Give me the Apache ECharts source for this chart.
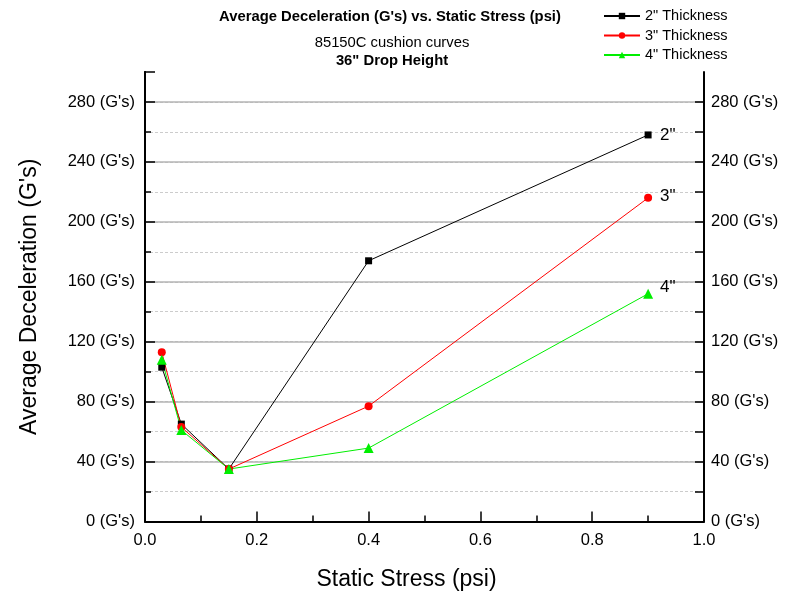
<!DOCTYPE html>
<html>
<head>
<meta charset="utf-8">
<script src="https://cdn.jsdelivr.net/npm/echarts@6/dist/echarts.min.js"></script>
<style>
html,body{margin:0;padding:0;background:#fff;}
#chart{width:785px;height:599px;}
</style>
</head>
<body>
<div id="chart"></div>
<script>
const xValues = [0.03, 0.065, 0.15, 0.4, 0.9];
const thick2 = [103, 65, 35, 174, 258];
const thick3 = [113, 63, 35, 77, 216];
const thick4 = [108, 61, 35, 49, 152];
const seriesNames = ['2" Thickness', '3" Thickness', '4" Thickness'];
const endTags = ['2"', '3"', '4"'];
const titleText = "Average Deceleration (G's) vs. Static Stress (psi)";
const subText1 = '85150C cushion curves';
const subText2 = '36" Drop Height';
const xName = 'Static Stress (psi)';
const yName = "Average Deceleration (G's)";

const FF = 'Liberation Sans, Arial, sans-serif';
const pairs = ys => xValues.map((x, i) => [x, ys[i]]);
const gLabel = v => (v % 40 === 0 && v < 300) ? v + " (G's)" : '';

const chart = echarts.init(document.getElementById('chart'));
const mk = (name, ys, color, symbol, size, tag, off) => ({
  name, type: 'line', data: pairs(ys), yAxisIndex: 0,
  symbol, symbolSize: size, showAllSymbol: true,
  lineStyle: {color, width: 1}, itemStyle: {color},
  endLabel: {show: true, formatter: tag, color: '#000', fontSize: 17, fontFamily: FF, distance: 12, offset: off},
  emphasis: {disabled: true}, animation: false, z: 5
});
chart.setOption({
  animation: false,
  textStyle: {fontFamily: FF},
  title: [
    {text: titleText, left: 385, top: 4.6, textAlign: 'center', textStyle: {fontSize: 14.8, fontWeight: 'bold', color: '#000', fontFamily: FF}},
    {text: subText1, left: 387, top: 30.6, textAlign: 'center', textStyle: {fontSize: 14.8, fontWeight: 'normal', color: '#000', fontFamily: FF}},
    {text: subText2, left: 387, top: 48.6, textAlign: 'center', textStyle: {fontSize: 14.8, fontWeight: 'bold', color: '#000', fontFamily: FF}}
  ],
  legend: {
    orient: 'vertical', left: 598, top: 3.5, itemWidth: 36, itemHeight: 8, itemGap: 4.5,
    textStyle: {fontSize: 14.5, color: '#000', fontFamily: FF, padding: [0,0,0,0]},
    data: seriesNames
  },
  grid: {left: 145, right: 81, top: 72, bottom: 77.5, containLabel: false},
  xAxis: {
    type: 'value', min: 0, max: 1, interval: 0.2,
    name: xName, nameLocation: 'middle', nameGap: 47,
    nameTextStyle: {fontSize: 23, color: '#000', fontFamily: FF, padding: [0, 36, 0, 0]},
    axisLine: {show: true, lineStyle: {color: '#000', width: 2}},
    axisTick: {show: true, inside: true, length: 10, lineStyle: {color: '#000', width: 1.5}},
    minorTick: {show: true, splitNumber: 2, length: 6, lineStyle: {color: '#000', width: 1.5}},
    axisLabel: {fontSize: 16.5, color: '#000', margin: 10, formatter: v => v.toFixed(1)},
    splitLine: {show: false}
  },
  yAxis: [
    {
      type: 'value', min: 0, max: 300, interval: 20, position: 'left',
      name: yName, nameLocation: 'middle', nameGap: 104,
      nameTextStyle: {fontSize: 23, color: '#000', fontFamily: FF},
      axisLine: {show: true, lineStyle: {color: '#000', width: 2}},
      axisTick: {show: true, inside: true, length: 6, lineStyle: {color: '#000', width: 1.5}},
      axisLabel: {fontSize: 16.5, color: '#000', margin: 10, formatter: gLabel, showMaxLabel: false},
      splitLine: {show: true, showMinLine: false, showMaxLine: false, lineStyle: {color: '#cccccc', type: [3, 2], width: 1}}
    },
    {
      type: 'value', min: 0, max: 300, interval: 40, position: 'left',
      axisLine: {show: true, lineStyle: {color: '#000', width: 2}},
      axisTick: {show: true, inside: true, length: 10, lineStyle: {color: '#000', width: 1.5}},
      axisLabel: {show: false},
      splitLine: {show: true, showMinLine: false, showMaxLine: false, lineStyle: {color: '#b4b4b4', width: 1.5}}
    },
    {
      type: 'value', min: 0, max: 300, interval: 20, position: 'right',
      axisLine: {show: true, lineStyle: {color: '#000', width: 2}},
      axisTick: {show: true, inside: true, length: 9, lineStyle: {color: '#000', width: 1.5}},
      axisLabel: {fontSize: 16.5, color: '#000', margin: 7, formatter: gLabel, showMaxLabel: false},
      splitLine: {show: false}
    }
  ],
  series: [
    mk(seriesNames[0], thick2, '#000000', 'rect', 7, endTags[0], [0, 0]),
    mk(seriesNames[1], thick3, '#ff0000', 'circle', 8, endTags[1], [0, -2]),
    mk(seriesNames[2], thick4, '#00ee00', 'triangle', 10, endTags[2], [0, -6])
  ]
});
</script>
</body>
</html>
